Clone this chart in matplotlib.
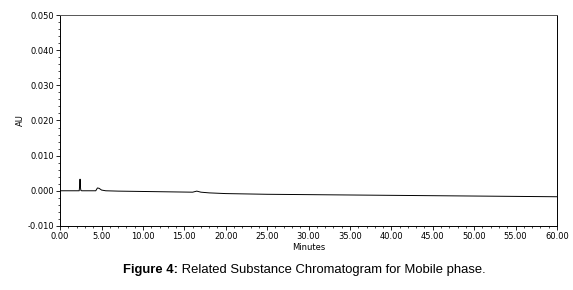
import matplotlib.pyplot as plt
from matplotlib.ticker import MultipleLocator

# chromatogram trace (time in minutes, absorbance in AU)
minutes = [0.0, 1.0, 2.0, 2.3, 2.35, 2.4, 2.45, 2.5, 2.6, 3.5, 4.3, 4.5, 4.7, 5.0, 5.5,
           7.0, 10.0, 13.0, 16.0, 16.5, 17.0, 18.0, 20.0, 25.0, 30.0, 35.0,
           40.0, 45.0, 50.0, 55.0, 60.0]
au = [0.0, 0.0, 0.0, 0.0, 0.0012, 0.0033, 0.0009, 0.0001, 0.0, 0.0, 0.0, 0.0008, 0.0007,
      0.0002, 0.0, -0.0001, -0.0002, -0.0003, -0.0004, -0.0001, -0.0004, -0.0006,
      -0.0008, -0.0010, -0.0011, -0.0012, -0.0013, -0.0014, -0.0015, -0.0016, -0.0017]

x_ticks = [0, 5, 10, 15, 20, 25, 30, 35, 40, 45, 50, 55, 60]
y_ticks = [-0.010, 0.000, 0.010, 0.020, 0.030, 0.040, 0.050]

fig = plt.figure(figsize=(5.73, 2.9), dpi=100)
ax = fig.add_axes([0.105, 0.221, 0.867, 0.727])

ax.plot(minutes, au, color="black", linewidth=0.7)

ax.set_xlim(0, 60)
ax.set_ylim(-0.010, 0.050)
ax.set_xticks(x_ticks)
ax.set_xticklabels(["%.2f" % t for t in x_ticks])
ax.set_yticks(y_ticks)
ax.set_yticklabels(["%.3f" % v for v in y_ticks])
ax.xaxis.set_minor_locator(MultipleLocator(1))
ax.yaxis.set_minor_locator(MultipleLocator(0.002))
ax.tick_params(axis="both", which="major", labelsize=6, length=3, width=0.6, pad=1.5)
ax.tick_params(axis="both", which="minor", length=1.5, width=0.5)

for side in ax.spines.values():
    side.set_linewidth(0.7)
ax.spines["top"].set_color("#555555")

ax.set_xlabel("Minutes", fontsize=6, labelpad=1)
ax.set_ylabel("AU", fontsize=6, labelpad=2)

# caption: bold label followed by normal text
cap = fig.text(0.215, 0.07, "Figure 4:", ha="left", va="center", fontsize=9.4,
               fontweight="bold", family="Liberation Sans")
fig.canvas.draw()
ax.annotate(" Related Substance Chromatogram for Mobile phase.", xy=(1, 0.5),
            xycoords=cap, ha="left", va="center", fontsize=9.4,
            family="Liberation Sans", annotation_clip=False)

plt.savefig("out.png", format="png", dpi=100)
